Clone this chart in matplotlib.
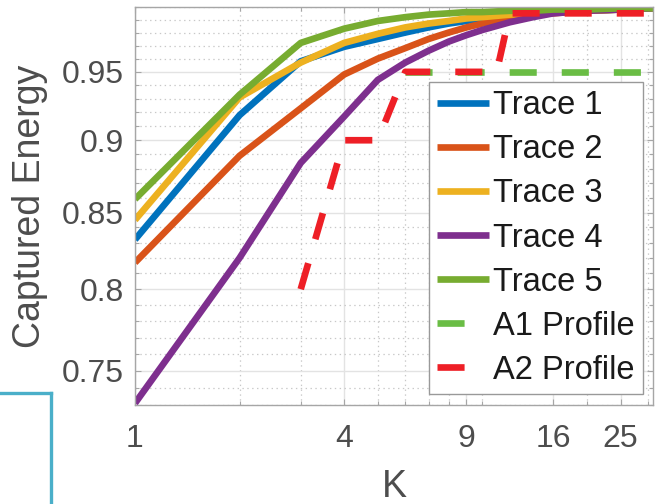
import matplotlib
matplotlib.use("Agg")
import matplotlib.pyplot as plt
import numpy as np
from matplotlib.lines import Line2D
from matplotlib.ticker import NullFormatter

# values
k_values = [1, 2, 3, 4, 5, 6, 7, 8, 9, 10, 12, 14, 16, 20, 25, 31]
trace1 = [0.832, 0.918, 0.958, 0.969, 0.975, 0.980, 0.984, 0.987, 0.989, 0.991, 0.993, 0.995, 0.996, 0.997, 0.998, 0.999]
trace2 = [0.817, 0.889, 0.923, 0.948, 0.960, 0.968, 0.975, 0.980, 0.984, 0.987, 0.991, 0.994, 0.995, 0.997, 0.998, 0.999]
trace3 = [0.845, 0.931, 0.957, 0.972, 0.979, 0.984, 0.987, 0.989, 0.991, 0.992, 0.994, 0.995, 0.996, 0.997, 0.998, 0.999]
trace4 = [0.731, 0.820, 0.884, 0.917, 0.944, 0.957, 0.966, 0.973, 0.978, 0.982, 0.988, 0.992, 0.995, 0.997, 0.998, 0.999]
trace5 = [0.859, 0.933, 0.972, 0.983, 0.989, 0.992, 0.994, 0.995, 0.996, 0.996, 0.997, 0.997, 0.998, 0.998, 0.999, 0.999]

a1_k = [6, 31]
a1_energy = [0.95, 0.95]
a2_k = [3, 4, 5, 6, 11, 12, 31]
a2_energy = [0.80, 0.90, 0.90, 0.95, 0.95, 0.995, 0.995]

trace_labels = ["Trace 1", "Trace 2", "Trace 3", "Trace 4", "Trace 5"]
trace_colors = ["#0072BD", "#D95319", "#EDB120", "#7E2F8E", "#77AC30"]

x_ticks = [1, 4, 9, 16, 25]
x_minor = [2, 3, 5, 6, 7, 8, 10, 20, 30]
y_ticks = [0.75, 0.8, 0.85, 0.9, 0.95]
y_tick_labels = ["0.75", "0.8", "0.85", "0.9", "0.95"]

plt.rcParams["font.family"] = ["Liberation Sans", "DejaVu Sans"]
plt.rcParams["lines.scale_dashes"] = False

TICK_GRAY = "#4D4D4D"
AXIS_GRAY = "#A6A6A6"

fig = plt.figure(figsize=(6.63, 5.04), dpi=100)
ax = fig.add_axes([135 / 663, 1 - 405 / 504, (653 - 135) / 663, (405 - 7) / 504])

for vals, lab, col in zip([trace1, trace2, trace3, trace4, trace5], trace_labels, trace_colors):
    ax.plot(k_values, vals, color=col, lw=4.8, label=lab, solid_capstyle="butt")

dash = (0, (19.5, 18))
ax.plot(a1_k, a1_energy, color="#6ABD45", lw=4.8, linestyle=dash, label="A1 Profile")
ax.plot(a2_k, a2_energy, color="#EE1F26", lw=4.8, linestyle=dash, label="A2 Profile")

ax.set_xscale("log")
ax.set_yscale("log")
ax.set_xlim(1, 31)
ax.set_ylim(0.73, 1.0)

ax.set_xticks(x_ticks, [str(k) for k in x_ticks])
ax.set_xticks(x_minor, minor=True)
ax.set_yticks(y_ticks, y_tick_labels)
y_minor = [round(v, 2) for v in np.arange(0.73, 1.001, 0.01) if round(v, 2) not in y_ticks]
ax.set_yticks(y_minor, minor=True)
ax.xaxis.set_minor_formatter(NullFormatter())
ax.yaxis.set_minor_formatter(NullFormatter())

ax.grid(True, which="major", color="#E3E3E3", lw=1.0, linestyle="-")
ax.grid(True, which="minor", color="#C8C8C8", lw=0.9, linestyle=(0, (1, 2.5)))
ax.set_axisbelow(True)

ax.tick_params(which="both", direction="in", top=True, right=True, colors=AXIS_GRAY,
               labelcolor=TICK_GRAY, labelsize=23)
ax.tick_params(which="major", length=4, width=0.8)
ax.tick_params(which="minor", length=3, width=0.8)
ax.tick_params(axis="x", which="major", pad=14)
ax.tick_params(axis="y", which="major", pad=8)
for sp in ax.spines.values():
    sp.set_color(AXIS_GRAY)
    sp.set_linewidth(1.0)

ax.set_xlabel("K", fontsize=27, color=TICK_GRAY)
ax.set_ylabel("Captured Energy", fontsize=27, color=TICK_GRAY)
ax.xaxis.set_label_coords(0.5, -0.16)
ax.yaxis.set_label_coords(-0.168, 0.5)

leg = ax.legend(loc="lower right", bbox_to_anchor=(0.981, 0.028), borderaxespad=0,
                fontsize=23.5, handlelength=1.6, handletextpad=0.12, borderpad=0.25,
                labelspacing=0.4, fancybox=False, framealpha=1.0, edgecolor="#999999")
leg.get_frame().set_linewidth(1.0)
for t in leg.get_texts():
    t.set_color("#1A1A1A")

# stray cyan frame corner at the bottom left of the reference image
fig.add_artist(Line2D([0, 51 / 663], [1 - 393 / 504, 1 - 393 / 504], color="#4AAFC9", lw=2.4,
                      transform=fig.transFigure))
fig.add_artist(Line2D([51 / 663, 51 / 663], [1 - 393 / 504, 0], color="#4AAFC9", lw=2.4,
                      transform=fig.transFigure))

fig.savefig("out.png", dpi=100)
